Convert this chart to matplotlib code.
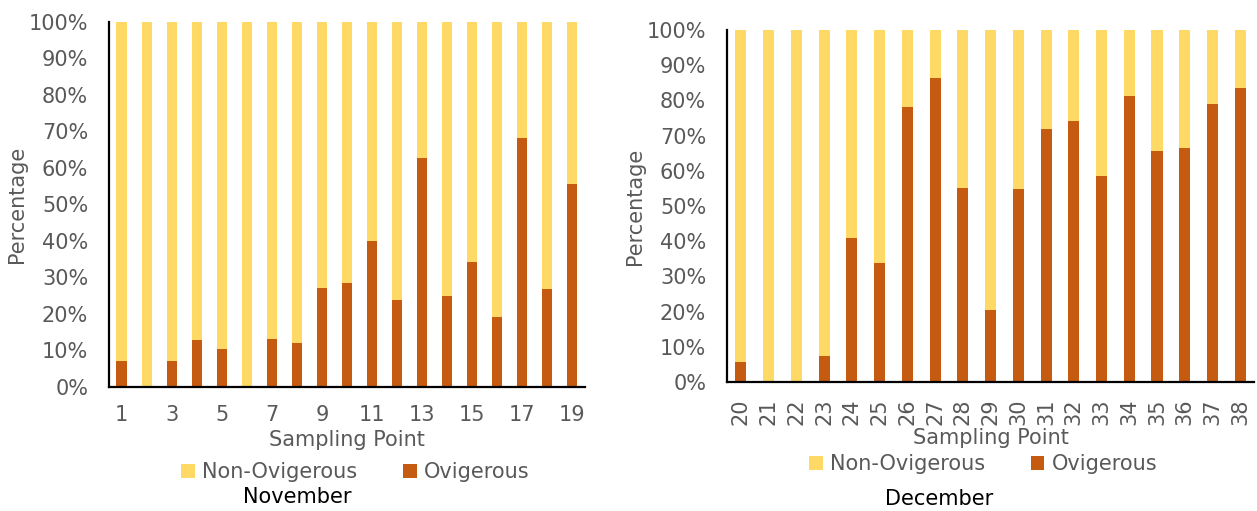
import numpy as np
import matplotlib
matplotlib.use('Agg')
import matplotlib.pyplot as plt
from matplotlib.ticker import PercentFormatter

plt.rcParams['font.family'] = ['DejaVu Sans']

# Colours for the two groups
NON_OVI_COLOR = '#FFD966'
OVI_COLOR = '#C55A11'
TEXT_GRAY = '#595959'

# November sampling points and share of ovigerous females (%)
nov_points = list(range(1, 20))
nov_ovigerous = [7.0, 0.0, 7.0, 12.9, 10.4, 0.0, 13.2, 12.1, 27.2, 28.5,
                 40.1, 23.9, 62.6, 25.0, 34.3, 19.3, 68.1, 26.9, 55.6]

# December sampling points and share of ovigerous females (%)
dec_points = list(range(20, 39))
dec_ovigerous = [5.7, 0.0, 0.0, 7.4, 40.9, 33.8, 78.0, 86.4, 55.1, 20.6,
                 54.9, 71.8, 74.1, 58.6, 81.3, 65.7, 66.5, 79.0, 83.6]

FS = 15


def stacked_panel(ax, points, ovigerous, bar_width):
    ovi = np.array(ovigerous)
    non_ovi = 100 - ovi
    x = np.arange(len(points))
    ax.bar(x, ovi, width=bar_width, color=OVI_COLOR, label='Ovigerous')
    ax.bar(x, non_ovi, width=bar_width, bottom=ovi, color=NON_OVI_COLOR,
           label='Non-Ovigerous')
    ax.set_xlim(-0.5, len(points) - 0.5)
    ax.set_ylim(0, 100)
    ax.set_yticks(np.arange(0, 101, 10))
    ax.yaxis.set_major_formatter(PercentFormatter(decimals=0))
    for side in ['top', 'right']:
        ax.spines[side].set_visible(False)
    for side in ['left', 'bottom']:
        ax.spines[side].set_color('black')
        ax.spines[side].set_linewidth(1.6)
    ax.tick_params(length=0, labelsize=FS, colors=TEXT_GRAY)
    ax.tick_params(axis='y', pad=15)
    ax.set_ylabel('Percentage', fontsize=FS, color=TEXT_GRAY, labelpad=1)
    return x


def add_legend(ax, x_anchor, y_anchor):
    h, l = ax.get_legend_handles_labels()
    ax.legend(h[::-1], l[::-1], loc='center', bbox_to_anchor=(x_anchor, y_anchor),
              ncol=2, frameon=False, fontsize=FS, labelcolor=TEXT_GRAY,
              handlelength=0.65, handleheight=0.65, handletextpad=0.35,
              columnspacing=2.2, borderpad=0, borderaxespad=0)


fig = plt.figure(figsize=(12.57, 5.11), dpi=100)

# November panel
ax1 = fig.add_axes([0.0867, 0.2427, 0.3787, 0.7143])
x1 = stacked_panel(ax1, nov_points, nov_ovigerous, 0.4)
ax1.set_xticks(x1[::2])
ax1.set_xticklabels([str(p) for p in nov_points[::2]])
ax1.tick_params(axis='x', pad=13)
ax1.set_xlabel('Sampling Point', fontsize=FS, color=TEXT_GRAY, va='center')
ax1.xaxis.set_label_coords(0.5, -53 / 364)
add_legend(ax1, 0.518, -85 / 364)
fig.text(297 / 1257, 1 - 497 / 511, 'November', fontsize=FS, color='black',
         ha='center', va='center')

# December panel
ax2 = fig.add_axes([0.5784, 0.2524, 0.4193, 0.6888])
x2 = stacked_panel(ax2, dec_points, dec_ovigerous, 0.4)
ax2.set_xticks(x2)
ax2.set_xticklabels([str(p) for p in dec_points], rotation=90)
ax2.tick_params(axis='x', pad=12)
ax2.set_xlabel('Sampling Point', fontsize=FS, color=TEXT_GRAY, va='center')
ax2.xaxis.set_label_coords(0.5, -56 / 352)
add_legend(ax2, 0.486, -82 / 352)
fig.text(939 / 1257, 1 - 499 / 511, 'December', fontsize=FS, color='black',
         ha='center', va='center')

fig.savefig('out.png', dpi=100)
